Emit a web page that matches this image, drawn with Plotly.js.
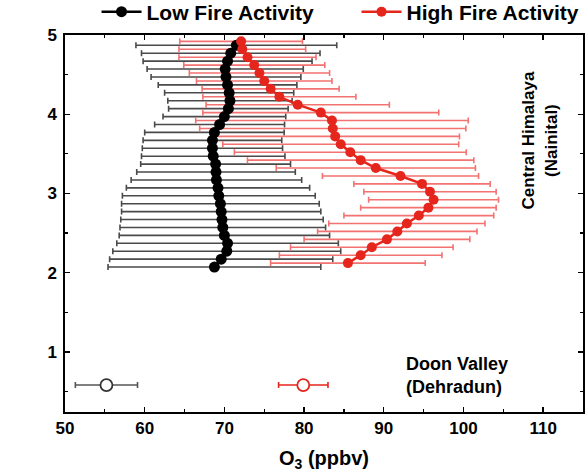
<!DOCTYPE html>
<html>
<head>
<meta charset="utf-8">
<script src="https://cdn.plot.ly/plotly-3.0.1.min.js"></script>
<style>html,body{margin:0;padding:0;background:#fff}#chart{width:585px;height:475px}</style>
</head>
<body>
<div id="chart"></div>
<script>
// Low fire activity profile (Central Himalaya, Nainital)
const lowAlt = [2.07,2.17,2.27,2.37,2.47,2.57,2.67,2.77,2.87,2.97,3.07,3.17,3.27,3.37,3.47,3.57,3.67,3.77,3.87,3.97,4.07,4.17,4.27,4.37,4.47,4.57,4.67,4.77,4.87];
const lowO3 = [68.75,69.6,70.3,70.4,70.0,69.8,69.7,69.6,69.5,69.3,69.2,69.0,68.95,68.9,68.6,68.5,68.5,68.75,69.4,70.0,70.5,70.7,70.6,70.4,70.2,70.1,70.4,70.8,71.5];
const lowSD = [13.35,14.0,14.3,13.9,13.2,12.9,12.7,12.5,12.4,12.1,11.5,10.7,9.95,9.4,9.0,8.8,8.7,8.75,8.15,7.7,7.5,7.8,8.1,8.7,9.4,9.8,10.6,11.2,12.6];

// High fire activity profile
const highAlt = [2.12,2.22,2.32,2.42,2.52,2.62,2.72,2.82,2.92,3.02,3.12,3.22,3.32,3.42,3.52,3.62,3.72,3.82,3.92,4.02,4.12,4.22,4.32,4.42,4.52,4.62,4.72,4.82,4.92];
const highO3 = [85.5,87.1,88.5,90.4,91.7,92.9,94.4,95.6,96.25,95.8,94.8,92.1,89.0,87.1,85.8,84.6,83.9,83.6,83.5,82.1,79.2,76.9,75.8,75.0,74.4,73.75,72.9,72.25,72.1];
const highSD = [9.7,10.2,10.2,10.4,10.0,9.8,9.4,8.5,8.15,8.3,8.55,9.8,12.5,14.2,14.55,14.8,15.6,16.7,17.1,14.8,11.5,9.6,8.6,8.5,8.8,8.85,8.6,7.95,7.7];

// Doon Valley (Dehradun) surface values
const doonAlt = [0.58];
const doonLowO3 = [55.2];
const doonLowSD = [3.9];
const doonHighO3 = [79.9];
const doonHighSD = [3.1];

const FONT = 'Arial, "Liberation Sans", sans-serif';
const BLACK = '#000000', GREYBAR = '#4a4a4a';
const RED = '#e5261d', REDBAR = '#f37272';

const traces = [
  {x: lowO3, y: lowAlt, type: 'scatter', mode: 'markers', showlegend: false, hoverinfo: 'skip',
   marker: {size: 1, color: 'rgba(0,0,0,0)'},
   error_x: {type: 'data', array: lowSD, visible: true, color: GREYBAR, thickness: 1.6, width: 3}},
  {x: highO3, y: highAlt, type: 'scatter', mode: 'markers', showlegend: false, hoverinfo: 'skip',
   marker: {size: 1, color: 'rgba(0,0,0,0)'},
   error_x: {type: 'data', array: highSD, visible: true, color: REDBAR, thickness: 1.6, width: 3}},
  {x: lowO3, y: lowAlt, type: 'scatter', mode: 'lines+markers', name: 'Low Fire Activity',
   line: {color: BLACK, width: 2.5}, marker: {color: BLACK, size: 11}},
  {x: highO3, y: highAlt, type: 'scatter', mode: 'lines+markers', name: 'High Fire Activity',
   line: {color: RED, width: 2.5}, marker: {color: RED, size: 10}},
  {x: doonLowO3, y: doonAlt, type: 'scatter', mode: 'markers', showlegend: false,
   marker: {size: 12, color: '#ffffff', line: {color: '#333333', width: 1.8}},
   error_x: {type: 'data', array: doonLowSD, visible: true, color: '#555555', thickness: 1.6, width: 3}},
  {x: doonHighO3, y: doonAlt, type: 'scatter', mode: 'markers', showlegend: false,
   marker: {size: 12, color: '#ffffff', line: {color: RED, width: 1.8}},
   error_x: {type: 'data', array: doonHighSD, visible: true, color: RED, thickness: 1.6, width: 3}}
];

const axisCommon = {
  showgrid: false, zeroline: false, showline: true, linecolor: '#000', linewidth: 1.6,
  mirror: 'ticks', ticks: 'inside', ticklen: 5, tickwidth: 1.4, tickcolor: '#000',
  tickfont: {family: FONT, size: 17, color: '#000', weight: 'bold'}
};

const layout = {
  width: 585, height: 475,
  margin: {l: 65, r: 2, t: 35, b: 63, autoexpand: false},
  paper_bgcolor: '#fff', plot_bgcolor: '#fff',
  font: {family: FONT, color: '#000', weight: 'bold'},
  showlegend: true,
  legend: {orientation: 'h', xref: 'container', yref: 'paper', x: 0.165, xanchor: 'left', y: 1.061, yanchor: 'middle',
           font: {family: FONT, size: 21, color: '#000', weight: 'bold'},
           itemwidth: 40, entrywidth: 205, tracegroupgap: 0, bgcolor: 'rgba(0,0,0,0)'},
  xaxis: Object.assign({}, axisCommon, {
    range: [50, 115], dtick: 10, tick0: 50, automargin: false,
    minor: {dtick: 5, ticks: 'inside', ticklen: 3, tickcolor: '#000', tickwidth: 1.2},
    title: {text: 'O<sub>3</sub> (ppbv)', standoff: 14, font: {family: FONT, size: 20, color: '#000', weight: 'bold'}}
  }),
  yaxis: Object.assign({}, axisCommon, {
    range: [0.24, 5], dtick: 1, tick0: 0, ticklabelstandoff: 3, automargin: false,
    minor: {dtick: 0.5, ticks: 'inside', ticklen: 3, tickcolor: '#000', tickwidth: 1.2},
    title: {text: 'Altitude (km)', standoff: 10, font: {family: FONT, size: 22, color: '#000', weight: 'bold'}}
  }),
  annotations: [
    {xref: 'paper', yref: 'paper', x: 0.917, y: 0.72, xanchor: 'center', yanchor: 'middle',
     text: 'Central Himalaya<br>(Nainital)', showarrow: false,
     textangle: -90, align: 'center', font: {family: FONT, size: 17, color: '#000', weight: 'bold'}},
    {xref: 'x', yref: 'y', x: 92.6, y: 0.70, xanchor: 'left', yanchor: 'middle', text: 'Doon Valley<br>(Dehradun)', showarrow: false,
     align: 'left', font: {family: FONT, size: 18, color: '#000', weight: 'bold'}}
  ]
};

Plotly.newPlot('chart', traces, layout, {displayModeBar: false, staticPlot: true});
</script>
</body>
</html>
